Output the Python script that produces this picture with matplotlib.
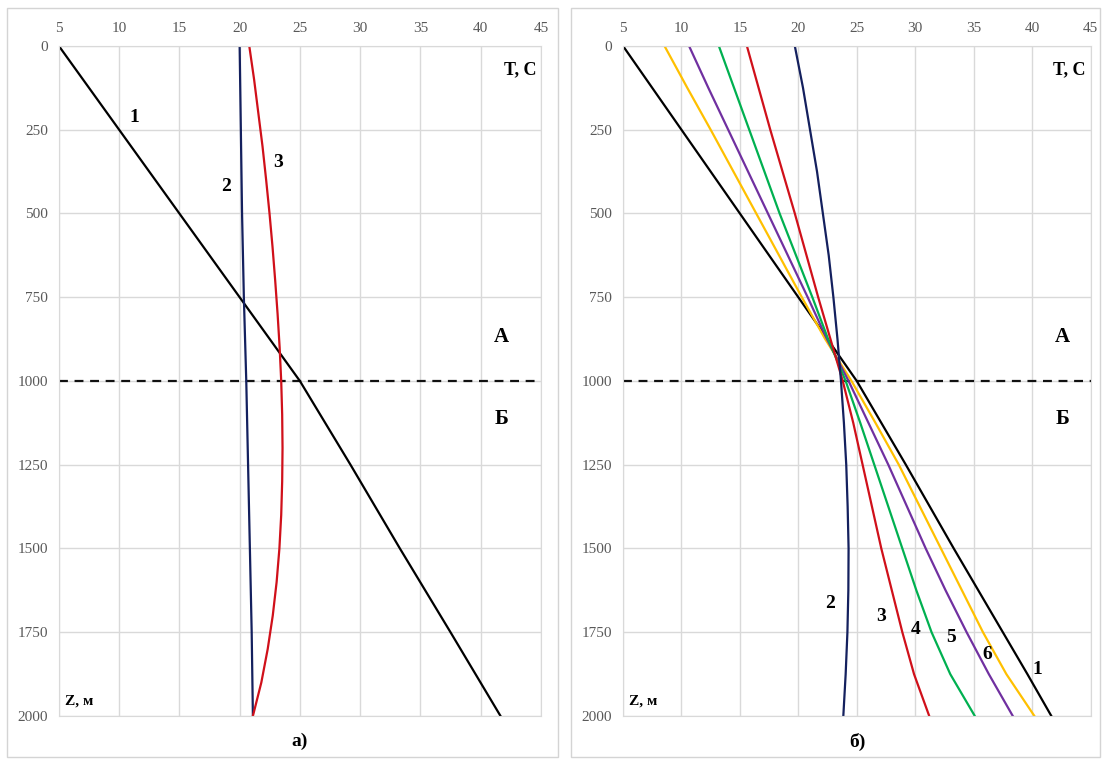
import numpy as np
import matplotlib.pyplot as plt
from matplotlib.patches import Rectangle

plt.rcParams['font.family'] = ['Liberation Serif', 'DejaVu Serif']

# глубины и температуры, панель а)
z_a = [0, 250, 500, 750, 1000, 1250, 1500, 1750, 2000]
t1_a = [5, 10, 15, 20, 25, 29.2, 33.3, 37.5, 41.65]
t2_a = [20.0, 20.1, 20.2, 20.35, 20.55, 20.7, 20.85, 21.0, 21.1]
z_a3 = [0, 100, 200, 300, 400, 500, 600, 700, 800, 900, 1000,
        1100, 1200, 1300, 1400, 1500, 1600, 1700, 1800, 1900, 2000]
t3_a = [20.8, 21.2, 21.55, 21.9, 22.2, 22.48, 22.73, 22.95, 23.15, 23.32, 23.45,
        23.53, 23.56, 23.53, 23.45, 23.3, 23.07, 22.75, 22.33, 21.8, 21.1]

# панель б)
z_b = [0, 125, 250, 375, 500, 625, 750, 875, 1000,
       1125, 1250, 1375, 1500, 1625, 1750, 1875, 2000]
t1_b = [5, 7.5, 10, 12.5, 15, 17.5, 20, 22.5, 25,
        27.1, 29.2, 31.25, 33.3, 35.4, 37.5, 39.6, 41.65]
t2_b = [19.7, 20.4, 21.0, 21.6, 22.1, 22.6, 23.0, 23.35, 23.65,
        23.9, 24.1, 24.22, 24.3, 24.28, 24.2, 24.05, 23.85]
t3_b = [15.6, 16.6, 17.6, 18.65, 19.7, 20.7, 21.7, 22.75, 23.8,
        24.7, 25.5, 26.3, 27.1, 28.0, 28.9, 29.9, 31.2]
t4_b = [13.2, 14.5, 15.8, 17.1, 18.4, 19.8, 21.2, 22.55, 24.05,
        25.3, 26.5, 27.7, 28.9, 30.1, 31.4, 33.0, 35.1]
t5_b = [10.65, 12.3, 14.0, 15.7, 17.4, 19.1, 20.8, 22.45, 24.3,
        26.0, 27.7, 29.3, 30.9, 32.6, 34.4, 36.3, 38.35]
t6_b = [8.55, 10.5, 12.5, 14.45, 16.4, 18.35, 20.3, 22.3, 24.55,
        26.6, 28.6, 30.4, 32.2, 34.0, 35.8, 37.8, 40.2]

x_ticks = [5, 10, 15, 20, 25, 30, 35, 40, 45]
y_ticks = [0, 250, 500, 750, 1000, 1250, 1500, 1750, 2000]

c_black = '#000000'
c_navy = '#14205e'
c_red = '#d0101a'
c_green = '#00b050'
c_purple = '#7030a0'
c_yellow = '#ffc000'

fig = plt.figure(figsize=(11.07, 7.6), dpi=100)

# рамки панелей
for x0, w in [(0.0063, 0.4977), (0.516, 0.4777)]:
    fig.patches.append(Rectangle((x0, 0.004), w, 0.985, transform=fig.transFigure,
                                 fill=False, edgecolor='#d4d4d4', lw=1))

ax1 = fig.add_axes([0.0532, 0.0579, 0.4354, 0.8816])
ax2 = fig.add_axes([0.5628, 0.0579, 0.4223, 0.8816])


def setup(ax):
    ax.set_xlim(5, 45)
    ax.set_ylim(2000, 0)
    ax.set_xticks(x_ticks)
    ax.set_yticks(y_ticks)
    ax.xaxis.tick_top()
    ax.tick_params(length=0, labelsize=11, labelcolor='#595959', pad=8)
    ax.grid(True, color='#d9d9d9', lw=1)
    ax.set_axisbelow(True)
    for s in ax.spines.values():
        s.set_color('#d9d9d9')
    ax.axhline(1000, color='#111111', lw=1.6, ls=(0, (4, 3)))
    ax.text(44.6, 72, 'T, C', fontsize=13, fontweight='bold', ha='right', va='center')
    ax.text(5.5, 1955, 'Z, м', fontsize=11, fontweight='bold', ha='left', va='center')


setup(ax1)
setup(ax2)

lw = 1.6
ax1.plot(t1_a, z_a, color=c_black, lw=lw)
ax1.plot(t2_a, z_a, color=c_navy, lw=lw)
ax1.plot(t3_a, z_a3, color=c_red, lw=lw)

ax1.text(11.3, 212, '1', fontsize=14, fontweight='bold', ha='center', va='center')
ax1.text(18.9, 418, '2', fontsize=14, fontweight='bold', ha='center', va='center')
ax1.text(23.2, 348, '3', fontsize=14, fontweight='bold', ha='center', va='center')
ax1.text(41.7, 868, 'А', fontsize=15, fontweight='bold', ha='center', va='center')
ax1.text(41.7, 1114, 'Б', fontsize=15, fontweight='bold', ha='center', va='center')

ax2.plot(t1_b, z_b, color=c_black, lw=lw)
ax2.plot(t6_b, z_b, color=c_yellow, lw=lw)
ax2.plot(t5_b, z_b, color=c_purple, lw=lw)
ax2.plot(t4_b, z_b, color=c_green, lw=lw)
ax2.plot(t3_b, z_b, color=c_red, lw=lw)
ax2.plot(t2_b, z_b, color=c_navy, lw=lw)

for lab, x, y in [('2', 22.7, 1665), ('3', 27.1, 1703), ('4', 30.0, 1742),
                  ('5', 33.1, 1766), ('6', 36.2, 1815), ('1', 40.45, 1860)]:
    ax2.text(x, y, lab, fontsize=14, fontweight='bold', ha='center', va='center')
ax2.text(42.6, 868, 'А', fontsize=15, fontweight='bold', ha='center', va='center')
ax2.text(42.6, 1114, 'Б', fontsize=15, fontweight='bold', ha='center', va='center')

fig.text(0.271, 0.024, 'а)', fontsize=14, fontweight='bold', ha='center', va='center')
fig.text(0.775, 0.024, 'б)', fontsize=14, fontweight='bold', ha='center', va='center')

fig.savefig('out.png', dpi=100)
